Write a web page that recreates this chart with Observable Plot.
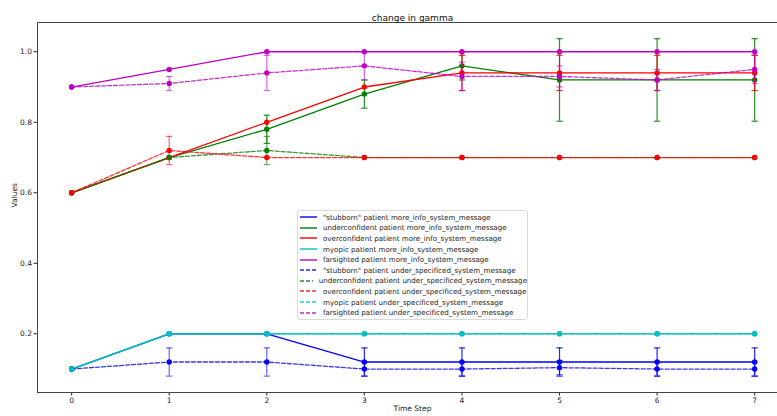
<!DOCTYPE html>
<html>
<head>
<meta charset="utf-8">
<script src="https://cdn.jsdelivr.net/npm/d3@7"></script>
<script src="https://cdn.jsdelivr.net/npm/@observablehq/plot@0.6"></script>
<style>
  html, body { margin: 0; padding: 0; background: white; overflow: hidden; }
  #wrap { position: relative; width: 777px; height: 416px; overflow: hidden; font-family: "DejaVu Sans", sans-serif; }
  #wrap > svg { display: block; }
  #legend { position: absolute; left: 297px; top: 210px; width: 231px; height: 110px;
    border: 1px solid #d9d9d9; border-radius: 3px; background: rgba(255,255,255,0.85);
    box-sizing: border-box; padding: 1px 0 0 0; }
  .row { display: flex; align-items: center; height: 10.6px; font-size: 7.1px; color: #222; white-space: nowrap; }
  .row svg { margin-left: 2px; margin-right: 6px; }
</style>
</head>
<body>
<div id="wrap"><div id="legend"></div></div>
<script>
const title = "change in gamma";
const xLabel = "Time Step";
const yLabel = "Values";
const steps = [0, 1, 2, 3, 4, 5, 6, 7];
const yTicks = [0.2, 0.4, 0.6, 0.8, 1.0];
const xDomain = [-0.35, 7.234];
const yDomain = [0.0335, 1.083];
const patients = ['"stubborn" patient', "underconfident patient", "overconfident patient", "myopic patient", "farsighted patient"];
const colors = ["#0000ff", "#008000", "#ff0000", "#00bfbf", "#bf00bf"];
const messages = ["more_info_system_message", "under_specificed_system_message"];

// more_info_system_message
const moreInfoValues = [
  [0.10, 0.20, 0.20, 0.12, 0.12, 0.12, 0.12, 0.12],
  [0.60, 0.70, 0.78, 0.88, 0.96, 0.92, 0.92, 0.92],
  [0.60, 0.70, 0.80, 0.90, 0.94, 0.94, 0.94, 0.94],
  [0.10, 0.20, 0.20, 0.20, 0.20, 0.20, 0.20, 0.20],
  [0.90, 0.95, 1.00, 1.00, 1.00, 1.00, 1.00, 1.00]
];
const moreInfoErrors = [
  [0, 0, 0, 0.04, 0.04, 0.04, 0.04, 0.04],
  [0, 0, 0.04, 0.04, 0.04, 0.117, 0.117, 0.117],
  [0, 0, 0, 0, 0.05, 0.05, 0.05, 0.05],
  [0, 0, 0, 0, 0, 0, 0, 0],
  [0, 0, 0, 0, 0, 0, 0, 0]
];
// under_specificed_system_message
const underSpecValues = [
  [0.10, 0.12, 0.12, 0.10, 0.10, 0.104, 0.10, 0.10],
  [0.60, 0.70, 0.72, 0.70, 0.70, 0.70, 0.70, 0.70],
  [0.60, 0.72, 0.70, 0.70, 0.70, 0.70, 0.70, 0.70],
  [0.10, 0.20, 0.20, 0.20, 0.20, 0.20, 0.20, 0.20],
  [0.90, 0.91, 0.94, 0.96, 0.93, 0.93, 0.92, 0.95]
];
const underSpecErrors = [
  [0, 0.04, 0.04, 0.02, 0.02, 0.02, 0.02, 0.02],
  [0, 0, 0.04, 0, 0, 0, 0, 0],
  [0, 0.04, 0, 0, 0, 0, 0, 0],
  [0, 0, 0, 0, 0, 0, 0, 0],
  [0, 0.02, 0.05, 0.04, 0.04, 0.03, 0.03, 0.04]
];

const valueSets = [moreInfoValues, underSpecValues];
const errorSets = [moreInfoErrors, underSpecErrors];

const series = [];
messages.forEach((msg, m) => {
  patients.forEach((p, i) => {
    series.push({
      name: p + " " + msg,
      color: colors[i],
      dashed: m === 1,
      rows: steps.map((s, k) => ({step: s, value: valueSets[m][i][k], err: errorSets[m][i][k]}))
    });
  });
});

const capHalf = 0.032;
const marks = [];
for (const s of series) {
  const dash = s.dashed ? "4,2" : null;
  const op = s.dashed ? 0.8 : 1;
  const eop = s.dashed ? 0.6 : 0.85;
  const eb = s.rows.filter(r => r.err > 0);
  marks.push(Plot.line(s.rows, {x: "step", y: "value", stroke: s.color, strokeWidth: 1.3, strokeDasharray: dash, strokeOpacity: op}));
  if (eb.length) {
    marks.push(Plot.ruleX(eb, {x: "step", y1: r => r.value - r.err, y2: r => r.value + r.err, stroke: s.color, strokeWidth: 1.2, strokeOpacity: eop}));
    marks.push(Plot.link(eb, {x1: r => r.step - capHalf, x2: r => r.step + capHalf, y1: r => r.value - r.err, y2: r => r.value - r.err, stroke: s.color, strokeWidth: 1.2, strokeOpacity: eop}));
    marks.push(Plot.link(eb, {x1: r => r.step - capHalf, x2: r => r.step + capHalf, y1: r => r.value + r.err, y2: r => r.value + r.err, stroke: s.color, strokeWidth: 1.2, strokeOpacity: eop}));
  }
  marks.push(Plot.dot(s.rows, {x: "step", y: "value", r: 2.7, fill: s.color, stroke: "none"}));
}

const chart = Plot.plot({
  width: 777,
  height: 416,
  marginLeft: 37,
  marginRight: 0,
  marginTop: 22,
  marginBottom: 24,
  style: {fontFamily: "DejaVu Sans", fontSize: "7.5px", background: "white", color: "#222"},
  x: {domain: xDomain, ticks: steps, tickFormat: d => String(d), label: null, tickSize: 3.5, tickPadding: 2},
  y: {domain: yDomain, ticks: yTicks, tickFormat: d3.format(".1f"), label: null, tickSize: 3.5, tickPadding: 2},
  marks: [
    ...marks,
    Plot.ruleX([xDomain[0]], {x: d => d, y1: yDomain[0], y2: yDomain[1], stroke: "#444", strokeWidth: 1}),
    Plot.ruleY([yDomain[0]], {y: d => d, x1: xDomain[0], x2: xDomain[1], stroke: "#444", strokeWidth: 1}),
    Plot.ruleY([yDomain[1]], {y: d => d, x1: xDomain[0], x2: xDomain[1], stroke: "#444", strokeWidth: 1}),
    Plot.text([title], {text: d => d, frameAnchor: "top", dx: 5, dy: -8, fontSize: 9, fill: "#111"}),
    Plot.text([xLabel], {text: d => d, frameAnchor: "bottom", dx: 5, dy: 18, fontSize: 7.5, fill: "#222"}),
    Plot.text([yLabel], {text: d => d, frameAnchor: "left", dx: -23, rotate: -90, fontSize: 7.5, fill: "#222"})
  ]
});
document.getElementById("wrap").prepend(chart);

const legend = document.getElementById("legend");
for (const s of series) {
  const row = document.createElement("div");
  row.className = "row";
  row.innerHTML = `<svg width="17" height="6"><line x1="0" x2="17" y1="3" y2="3" stroke="${s.color}" stroke-width="1.4" ${s.dashed ? 'stroke-dasharray="4,2"' : ""} stroke-opacity="${s.dashed ? 0.85 : 1}"/></svg><span></span>`;
  row.querySelector("span").textContent = s.name;
  legend.appendChild(row);
}
</script>
</body>
</html>
